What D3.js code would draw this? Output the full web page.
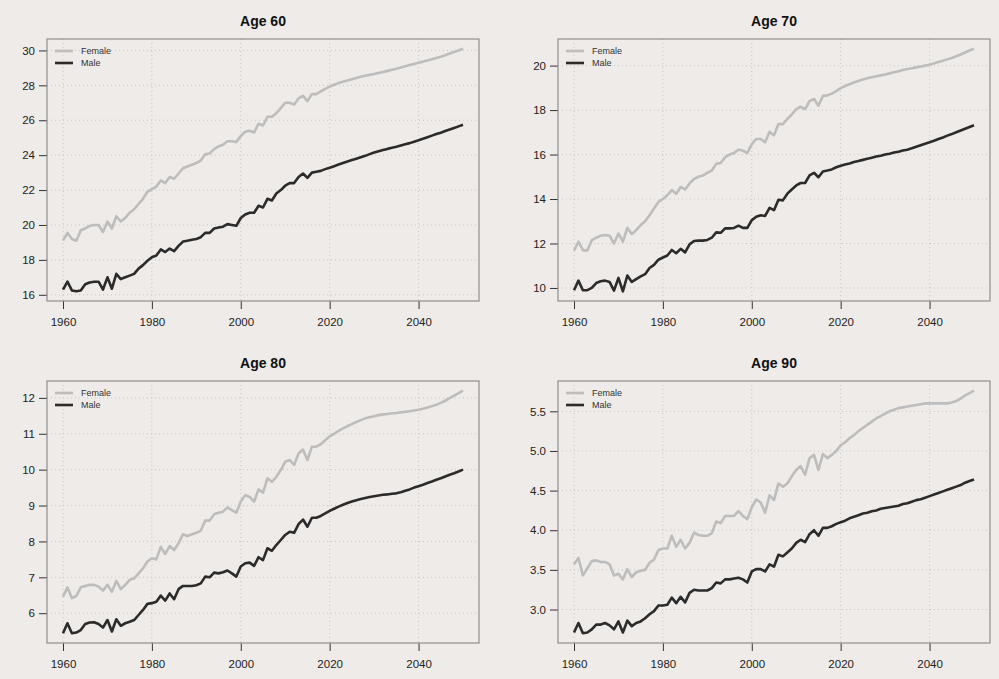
<!DOCTYPE html>
<html>
<head>
<meta charset="utf-8">
<script src="https://cdn.jsdelivr.net/npm/d3@7"></script>
<style>
  body { margin: 0; background: #eeebe8; }
  svg { display: block; font-family: "Liberation Sans", Arial, sans-serif; }
</style>
</head>
<body>
<div id="chart"></div>
<script>
// years on the x axis
var years = d3.range(1960, 2051);
var xTicks = [1960, 1980, 2000, 2020, 2040];

// remaining life expectancy (1960..2050)
var female60 = [
  19.1, 19.55, 19.2, 19.1, 19.7, 19.8, 19.95, 20.0, 20.0, 19.6,
  20.2, 19.8, 20.5, 20.2, 20.4, 20.7, 20.9, 21.2, 21.5, 21.9,
  22.05, 22.2, 22.55, 22.4, 22.75, 22.65, 22.95, 23.25, 23.35, 23.45,
  23.55, 23.7, 24.05, 24.1, 24.35, 24.5, 24.6, 24.8, 24.8, 24.75,
  25.1, 25.35, 25.4, 25.3, 25.8, 25.7, 26.2, 26.2, 26.4, 26.7,
  27.0, 27.0, 26.9, 27.25, 27.4, 27.1, 27.5, 27.5, 27.65, 27.8,
  27.93, 28.03, 28.13, 28.21, 28.28, 28.35, 28.42, 28.49, 28.55, 28.6,
  28.65, 28.71, 28.77, 28.83, 28.89, 28.95, 29.02, 29.09, 29.16, 29.23,
  29.3, 29.36, 29.43, 29.5, 29.57, 29.64, 29.73, 29.82, 29.91, 30.0,
  30.1];
var male60 = [
  16.3, 16.75, 16.25, 16.2, 16.25, 16.6, 16.7, 16.75, 16.75, 16.3,
  17.0, 16.35, 17.2, 16.9, 17.0, 17.1, 17.2, 17.5, 17.7, 17.95,
  18.15, 18.25, 18.6, 18.45, 18.65, 18.5, 18.8, 19.05, 19.1, 19.15,
  19.2, 19.3, 19.55, 19.55, 19.8, 19.85, 19.9, 20.05, 20.0, 19.95,
  20.4, 20.6, 20.7, 20.7, 21.1, 21.0, 21.5, 21.4, 21.8, 22.0,
  22.25, 22.4, 22.4, 22.75, 22.95, 22.7, 23.0, 23.05, 23.1, 23.2,
  23.28, 23.37, 23.46, 23.55, 23.64, 23.72, 23.8, 23.88, 23.96, 24.06,
  24.15, 24.22, 24.29, 24.36, 24.42, 24.48, 24.55, 24.62, 24.69, 24.77,
  24.85, 24.94, 25.03, 25.12, 25.21, 25.29, 25.38, 25.47, 25.56, 25.65,
  25.74];
var female70 = [
  11.68, 12.08, 11.7, 11.68, 12.15, 12.26, 12.35, 12.38, 12.35, 12.0,
  12.45, 12.08, 12.7, 12.43, 12.6, 12.83, 13.0, 13.27, 13.57, 13.87,
  14.0, 14.17, 14.4, 14.24, 14.54, 14.43, 14.7, 14.9, 15.0, 15.06,
  15.18, 15.28, 15.58, 15.62, 15.88, 16.0, 16.07, 16.22, 16.18, 16.07,
  16.47, 16.7, 16.7, 16.55, 17.02, 16.87, 17.37, 17.37, 17.6, 17.8,
  18.04, 18.15, 18.04, 18.4, 18.5, 18.2, 18.63, 18.66, 18.74, 18.85,
  18.99, 19.08, 19.16, 19.24, 19.31, 19.38, 19.43, 19.48, 19.52, 19.56,
  19.6, 19.65, 19.7, 19.75, 19.8, 19.85, 19.88, 19.92, 19.96, 20.0,
  20.04, 20.1, 20.16, 20.22, 20.28, 20.34, 20.42, 20.5, 20.59, 20.68,
  20.76];
var male70 = [
  9.9, 10.33, 9.9, 9.9, 10.0, 10.22, 10.3, 10.33, 10.27, 9.88,
  10.45, 9.85, 10.56, 10.27, 10.4, 10.52, 10.62, 10.9, 11.04, 11.27,
  11.37, 11.46, 11.71, 11.56, 11.76, 11.6, 11.96, 12.11, 12.13, 12.13,
  12.16, 12.26, 12.5, 12.48, 12.68, 12.68, 12.7, 12.8, 12.7, 12.7,
  13.05, 13.2, 13.27, 13.24, 13.6, 13.5, 13.97, 13.94, 14.24, 14.43,
  14.61, 14.72, 14.72, 15.06, 15.18, 14.98, 15.24, 15.28, 15.33, 15.43,
  15.5, 15.55, 15.6, 15.66, 15.71, 15.76, 15.81, 15.86, 15.91, 15.95,
  16.0, 16.04, 16.09, 16.13, 16.18, 16.22, 16.28, 16.35, 16.42, 16.49,
  16.55, 16.62, 16.7, 16.77, 16.85, 16.92, 17.0, 17.08, 17.16, 17.24,
  17.32];
var female80 = [
  6.46, 6.72, 6.42, 6.48, 6.72, 6.76, 6.79, 6.79, 6.74, 6.63,
  6.79, 6.6, 6.9, 6.67, 6.79, 6.93, 6.97, 7.11, 7.25, 7.44,
  7.53, 7.5, 7.85, 7.65, 7.87, 7.76, 7.95, 8.2, 8.15, 8.2,
  8.24, 8.3, 8.58, 8.58, 8.76, 8.8, 8.83, 8.95, 8.87, 8.8,
  9.11, 9.29, 9.24, 9.11, 9.45, 9.36, 9.76, 9.66, 9.8, 9.99,
  10.22, 10.27, 10.13, 10.45, 10.56, 10.27, 10.64, 10.64, 10.71, 10.82,
  10.93, 11.0, 11.08, 11.15, 11.21, 11.27, 11.33, 11.38, 11.43, 11.46,
  11.49, 11.52, 11.54, 11.55, 11.57, 11.58, 11.6, 11.61, 11.63, 11.65,
  11.67, 11.7, 11.73, 11.77, 11.81, 11.86, 11.92, 11.99, 12.06, 12.13,
  12.2];
var male80 = [
  5.44, 5.72, 5.44, 5.46, 5.53, 5.7, 5.74, 5.75, 5.7, 5.6,
  5.81, 5.49, 5.83, 5.65, 5.72, 5.76, 5.81, 5.95, 6.09, 6.26,
  6.28, 6.32, 6.49, 6.35, 6.55, 6.39, 6.67, 6.76, 6.76, 6.76,
  6.78, 6.83, 7.02, 7.0, 7.13, 7.11, 7.14, 7.19, 7.11, 7.02,
  7.3, 7.39, 7.41, 7.32, 7.56, 7.48, 7.81, 7.74, 7.9, 8.04,
  8.18, 8.27, 8.24, 8.48, 8.61, 8.41, 8.66, 8.66, 8.71, 8.78,
  8.85, 8.91, 8.97, 9.02, 9.07, 9.11, 9.15, 9.18, 9.21, 9.24,
  9.26, 9.28, 9.3, 9.31, 9.33, 9.34, 9.37, 9.41, 9.45, 9.5,
  9.54, 9.58, 9.63, 9.67, 9.72, 9.76, 9.81, 9.86, 9.9, 9.95,
  10.0];
var female90 = [
  3.57, 3.65, 3.43, 3.52, 3.61, 3.62, 3.6, 3.6, 3.57, 3.43,
  3.45, 3.38, 3.51, 3.41, 3.47, 3.49, 3.5, 3.59, 3.63, 3.75,
  3.77, 3.77, 3.93, 3.79, 3.88, 3.77, 3.84, 3.97, 3.94, 3.93,
  3.93, 3.96, 4.11, 4.09, 4.18, 4.18, 4.18, 4.24, 4.18, 4.14,
  4.29, 4.39, 4.35, 4.22, 4.44, 4.38, 4.59, 4.55, 4.59, 4.68,
  4.76, 4.81, 4.7, 4.91, 4.95, 4.76, 4.96, 4.91, 4.95, 5.0,
  5.07, 5.11, 5.16, 5.2, 5.25, 5.29, 5.33, 5.37, 5.41, 5.44,
  5.47, 5.5, 5.52, 5.54, 5.55, 5.56, 5.57, 5.58, 5.59, 5.6,
  5.6, 5.6, 5.6, 5.6, 5.6, 5.61, 5.63, 5.66, 5.7, 5.73,
  5.76];
var male90 = [
  2.71, 2.83, 2.7, 2.71, 2.75, 2.81, 2.81, 2.83, 2.8, 2.75,
  2.85, 2.71, 2.86, 2.79, 2.83, 2.85, 2.89, 2.94, 2.98, 3.05,
  3.05, 3.06, 3.15, 3.08, 3.16, 3.09, 3.21, 3.25, 3.24, 3.24,
  3.24, 3.27, 3.34, 3.33, 3.38, 3.38, 3.39, 3.4, 3.38, 3.34,
  3.48, 3.51, 3.51, 3.48, 3.57, 3.54, 3.69, 3.67, 3.72, 3.77,
  3.84, 3.88, 3.85, 3.95, 4.0, 3.93, 4.03, 4.03, 4.05, 4.08,
  4.1, 4.12, 4.15, 4.17, 4.19, 4.21, 4.22, 4.24, 4.25, 4.27,
  4.28, 4.29, 4.3, 4.31, 4.33, 4.34, 4.36, 4.38, 4.39, 4.41,
  4.43, 4.45, 4.47, 4.49, 4.51, 4.53, 4.55, 4.57, 4.6, 4.62,
  4.64];

// y tick labels per panel
var yTicks60 = [16, 18, 20, 22, 24, 26, 28, 30];
var yTicks70 = [10, 12, 14, 16, 18, 20];
var yTicks80 = [6, 7, 8, 9, 10, 11, 12];
var yTicks90 = [3.0, 3.5, 4.0, 4.5, 5.0, 5.5];

var titles = ["Age 60", "Age 70", "Age 80", "Age 90"];
var legendLabels = ["Female", "Male"];

var panels = [
  { title: titles[0], female: female60, male: male60, ticks: yTicks60, fmt: d3.format("d") },
  { title: titles[1], female: female70, male: male70, ticks: yTicks70, fmt: d3.format("d") },
  { title: titles[2], female: female80, male: male80, ticks: yTicks80, fmt: d3.format("d") },
  { title: titles[3], female: female90, male: male90, ticks: yTicks90, fmt: d3.format(".1f") }
];

var svgWidth = 999, svgHeight = 679;
var colLeft = [47, 558], rowTop = [39, 381];
var plotW = 432, plotH = 262;

var femaleColor = "#bdbdbd", maleColor = "#2b2b2b";

var svg = d3.select("#chart").append("svg")
    .attr("width", svgWidth)
    .attr("height", svgHeight);

svg.append("rect")
    .attr("width", svgWidth)
    .attr("height", svgHeight)
    .attr("fill", "#eeebe8");

panels.forEach(function(p, i) {
  var left = colLeft[i % 2], top = rowTop[Math.floor(i / 2)];
  var g = svg.append("g").attr("transform", `translate(${left}, ${top})`);

  // R style axis limits: 4% padding on each side
  var xPad = (2050 - 1960) * 0.04;
  var x = d3.scaleLinear().domain([1960 - xPad, 2050 + xPad]).range([0, plotW]);

  var ext = d3.extent(p.female.concat(p.male));
  var yPad = (ext[1] - ext[0]) * 0.04;
  var y = d3.scaleLinear().domain([ext[0] - yPad, ext[1] + yPad]).range([plotH, 0]);

  // dotted grid
  g.selectAll(".vgrid").data(xTicks).enter().append("line")
      .attr("x1", d => x(d)).attr("x2", d => x(d))
      .attr("y1", 0).attr("y2", plotH)
      .attr("stroke", "#c6c6c6").attr("stroke-dasharray", "1,3");
  g.selectAll(".hgrid").data(p.ticks).enter().append("line")
      .attr("x1", 0).attr("x2", plotW)
      .attr("y1", d => y(d)).attr("y2", d => y(d))
      .attr("stroke", "#c6c6c6").attr("stroke-dasharray", "1,3");

  // axes
  var xAxis = d3.axisBottom(x).tickValues(xTicks).tickFormat(d3.format("d")).tickSizeInner(8).tickSizeOuter(0).tickPadding(9);
  var yAxis = d3.axisLeft(y).tickValues(p.ticks).tickFormat(p.fmt).tickSizeInner(8).tickSizeOuter(0).tickPadding(4);

  var gx = g.append("g").attr("transform", `translate(0, ${plotH})`).call(xAxis);
  var gy = g.append("g").call(yAxis);
  [gx, gy].forEach(function(a) {
    a.select(".domain").remove();
    a.selectAll("line").attr("stroke", "#333");
    a.selectAll("text").attr("fill", "#222").style("font-size", "11.5px");
  });

  // lines
  var line = d3.line()
      .x((d, j) => x(years[j]))
      .y(d => y(d));

  g.append("path").datum(p.female)
      .attr("d", line)
      .attr("fill", "none")
      .attr("stroke", femaleColor)
      .attr("stroke-width", 2.6)
      .attr("stroke-linejoin", "round");
  g.append("path").datum(p.male)
      .attr("d", line)
      .attr("fill", "none")
      .attr("stroke", maleColor)
      .attr("stroke-width", 2.6)
      .attr("stroke-linejoin", "round");

  // box
  g.append("rect")
      .attr("width", plotW).attr("height", plotH)
      .attr("fill", "none")
      .attr("stroke", "#8f8f8f")
      .attr("stroke-width", 1.2);

  // legend
  var leg = g.append("g").attr("transform", "translate(8, 12)");
  [femaleColor, maleColor].forEach(function(c, k) {
    leg.append("line")
        .attr("x1", 0).attr("x2", 18)
        .attr("y1", k * 12).attr("y2", k * 12)
        .attr("stroke", c).attr("stroke-width", 2.6);
    leg.append("text")
        .attr("x", 26).attr("y", k * 12)
        .attr("dy", "0.35em")
        .style("font-size", "9px")
        .attr("fill", "#333")
        .text(legendLabels[k]);
  });

  // title
  g.append("text")
      .attr("x", plotW / 2)
      .attr("y", -13)
      .attr("text-anchor", "middle")
      .style("font-size", "14px")
      .style("font-weight", "bold")
      .attr("fill", "#111")
      .text(p.title);
});
</script>
</body>
</html>
